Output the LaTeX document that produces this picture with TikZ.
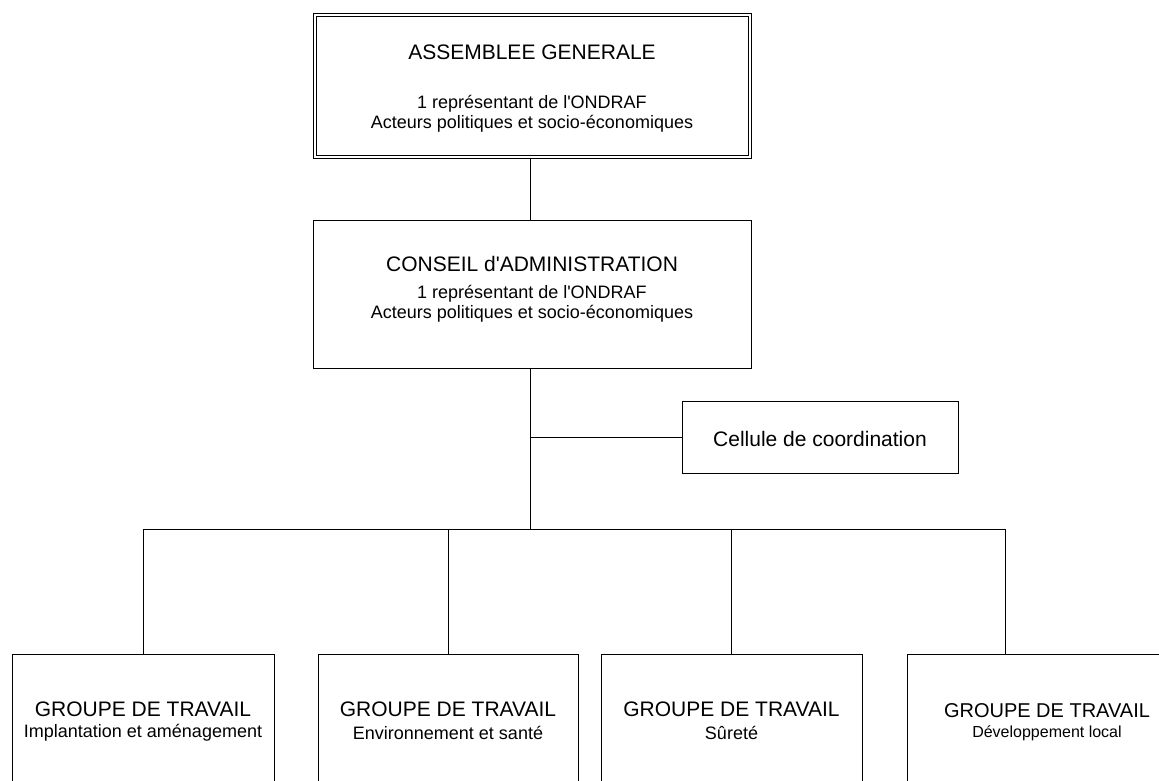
\documentclass[tikz,border=0pt]{standalone}
\usepackage{fontspec}
\setmainfont{Liberation Sans}[Ligatures=TeXOff]
\begin{document}
\begin{tikzpicture}[x=1pt,y=-1pt,
  box/.style={draw=black, line width=1pt, rectangle, inner sep=0pt},
  big/.style={font=\fontsize{21}{25}\selectfont, inner sep=0pt},
  small/.style={font=\fontsize{18}{21}\selectfont, inner sep=0pt},
  link/.style={draw=black, line width=1pt}]
\useasboundingbox (0,0) rectangle (1159,781);
\clip (0,0) rectangle (1159,781);
% top box
\node[box, double, double distance=2pt, line width=1.1pt, minimum width=435pt, minimum height=142pt] (ag) at (532.5,86) {};
\node[big] (agt) at (532,52) {ASSEMBLEE GENERALE};
\node[small] (ag1) at (532,104) {1 représentant de l'ONDRAF};
\node[small] (ag2) at (532,124) {Acteurs politiques et socio-économiques};
% conseil
\node[box, minimum width=438pt, minimum height=148pt] (ca) at (532,294) {};
\node[big] (cat) at (532,264) {CONSEIL d'ADMINISTRATION};
\node[small] (ca1) at (532,294) {1 représentant de l'ONDRAF};
\node[small] (ca2) at (532,314) {Acteurs politiques et socio-économiques};
% cellule
\node[box, minimum width=276pt, minimum height=72pt] (cc) at (820,437) {};
\node[big] (cct) at (820,439) {Cellule de coordination};
% bottom boxes
\node[box, minimum width=262pt, minimum height=300pt] (g1) at (143,804) {};
\node[box, minimum width=260pt, minimum height=300pt] (g2) at (448,804) {};
\node[box, minimum width=261pt, minimum height=300pt] (g3) at (731.5,804) {};
\node[box, minimum width=262pt, minimum height=300pt] (g4) at (1038,804) {};
\node[big] (g1t) at (143,709) {GROUPE DE TRAVAIL};
\node[small] (g1s) at (143,733) {Implantation et aménagement};
\node[big] (g2t) at (448,709) {GROUPE DE TRAVAIL};
\node[small] (g2s) at (448,733) {Environnement et santé};
\node[big] (g3t) at (731.5,709) {GROUPE DE TRAVAIL};
\node[small] (g3s) at (731.5,733) {Sûreté};
\node[big, font=\fontsize{20}{24}\selectfont] (g4t) at (1047,711) {GROUPE DE TRAVAIL};
\node[small, font=\fontsize{16}{19}\selectfont] (g4s) at (1047,733) {Développement local};
% connectors
\coordinate (j) at (530,529);
\coordinate (bl) at (143,529);
\coordinate (br) at (1005,529);
\draw[link] (ag.south -| j) -- (ca.north -| j);
\draw[link] (ca.south -| j) -- (j);
\draw[link] (cc.west -| j) -- (cc.west);
\draw[link] (bl) -- (br);
\draw[link] (bl) -- (g1.north);
\draw[link] (g2.north |- j) -- (g2.north);
\draw[link] (g3.north |- j) -- (g3.north);
\draw[link] (br) -- (br |- g4.north);
\end{tikzpicture}
\end{document}
